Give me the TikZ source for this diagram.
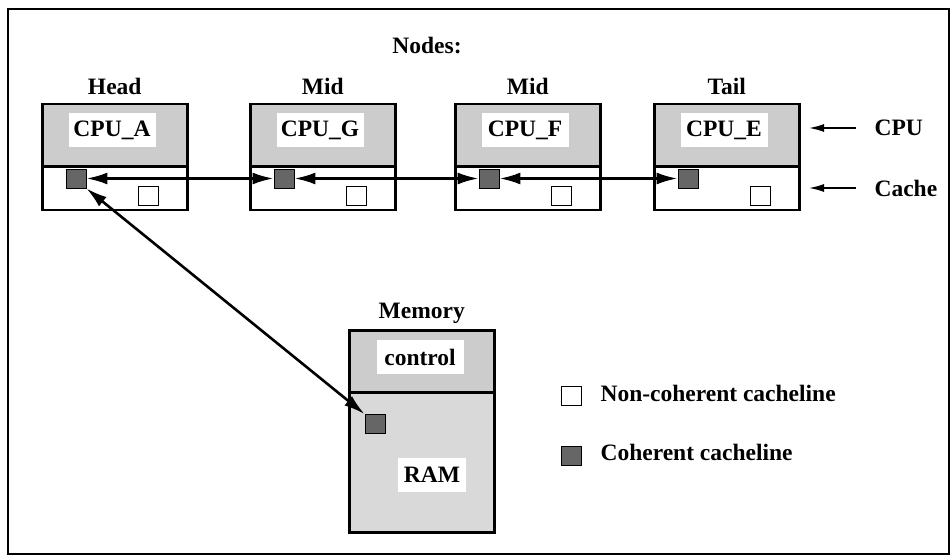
\documentclass[tikz,border=0pt]{standalone}
\usepackage{fontspec}
\setmainfont{Liberation Serif}
\usetikzlibrary{arrows.meta,positioning}

\definecolor{cpugray}{gray}{0.8}
\definecolor{ramgray}{gray}{0.85}
\definecolor{cohgray}{gray}{0.4}

\tikzset{
  part/.style={draw, line width=2.5pt, minimum width=145pt, anchor=north west, inner sep=0pt},
  cpupart/.style={part, fill=cpugray, minimum height=62pt},
  cachepart/.style={part, fill=white, minimum height=43pt},
  tag/.style={fill=white, inner xsep=0pt, minimum width=87pt, minimum height=34pt},
  cohsq/.style={draw, fill=cohgray, line width=0.8pt, minimum width=20pt, minimum height=19pt, inner sep=0pt},
  noncohsq/.style={cohsq, fill=white},
  link/.style={line width=2.6pt, {Latex[length=21pt,width=12pt]}-{Latex[length=21pt,width=12pt]}},
  pointer/.style={line width=1.6pt, -{Latex[length=15pt,width=8pt]}},
}

\begin{document}
\begin{tikzpicture}[x=1pt, y=-1pt, font=\fontsize{23.5}{28}\selectfont\bfseries]
        \draw[line width=1.5pt] (8,9) rectangle (949,554);
        \useasboundingbox (0,0) rectangle (950,556);

        \node (nodes) at (427,46) {Nodes:};

        \node[cpupart] (cpuA) at (41,103) {};
        \node[cpupart] (cpuG) at (249,103) {};
        \node[cpupart] (cpuF) at (454,103) {};
        \node[cpupart] (cpuE) at (653,103) {};
        \node[cachepart] (cacheA) at (41,166) {};
        \node[cachepart] (cacheG) at (249,166) {};
        \node[cachepart] (cacheF) at (454,166) {};
        \node[cachepart] (cacheE) at (653,166) {};

        \node[above=5pt of cpuA] (headlbl) {Head};
        \node[above=5pt of cpuG] (midlblG) {Mid};
        \node[above=5pt of cpuF] (midlblF) {Mid};
        \node[above=5pt of cpuE] (taillbl) {Tail};

        \node[tag] (tagA) at (112,130) {CPU\_A};
        \node[tag] (tagG) at (320,130) {CPU\_G};
        \node[tag] (tagF) at (525,130) {CPU\_F};
        \node[tag] (tagE) at (724,130) {CPU\_E};

        \node[cohsq] (sqA) at (76,178.5) {};
        \node[cohsq] (sqG) at (284,178.5) {};
        \node[cohsq] (sqF) at (489,178.5) {};
        \node[cohsq] (sqE) at (688,178.5) {};
        \node[noncohsq] (ncA) at (148,195.5) {};
        \node[noncohsq] (ncG) at (356,195.5) {};
        \node[noncohsq] (ncF) at (561,195.5) {};
        \node[noncohsq] (ncE) at (760,195.5) {};

        \draw[link] (sqA) -- (sqG);
        \draw[link] (sqG) -- (sqF);
        \draw[link] (sqF) -- (sqE);

        \node[anchor=west] (cpulbl) at (871,128) {CPU};
        \node[anchor=west] (cachelbl) at (871,188) {Cache};
        \coordinate (cpuend) at (809,128);
        \coordinate (cacheend) at (809,188);
        \draw[pointer] (cpulbl.west) ++(-15,0) -- (cpuend);
        \draw[pointer] (cachelbl.west) ++(-15,0) -- (cacheend);

        \node[part, fill=cpugray, minimum height=62pt] (control) at (348,329) {};
        \node[part, fill=ramgray, minimum height=140pt] (ram) at (348,391) {};
        \node[above=2pt of control] (memlbl) {Memory};
        \node[tag] (tagctl) at (420,357) {control};
        \node[tag, minimum width=68pt] (tagram) at (432,475) {RAM};
        \node[cohsq] (sqM) at (375,424) {};

        \draw[link] (sqA.south east) -- (sqM.north west);

        \node[noncohsq] (keync) at (571,396) {};
        \node[cohsq] (keyc) at (571,456) {};
        \node[anchor=west] (keynclbl) at (597,393) {Non-coherent cacheline};
        \node[anchor=west] (keyclbl) at (597,452) {Coherent cacheline};
    \end{tikzpicture}
\end{document}
